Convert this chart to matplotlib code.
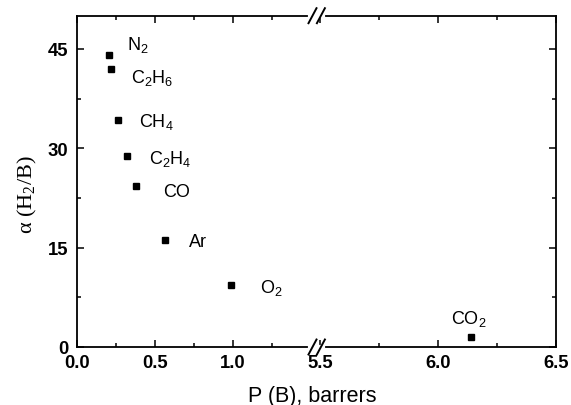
import matplotlib
matplotlib.use('Agg')
import matplotlib.pyplot as plt
from matplotlib.lines import Line2D
from matplotlib.ticker import MultipleLocator

plt.rcParams['font.family'] = 'Liberation Sans'
plt.rcParams['mathtext.default'] = 'regular'

# data
gases = ['N$_2$', 'C$_2$H$_6$', 'CH$_4$', 'C$_2$H$_4$', 'CO', 'Ar', 'O$_2$', 'CO$_2$']
perm = [0.205, 0.216, 0.265, 0.318, 0.378, 0.566, 0.989, 6.139]
alpha = [44.0, 41.9, 34.3, 28.9, 24.3, 16.2, 9.3, 1.5]

# label offsets (points) and alignment
offsets = [(12.7, 4.4), (14.4, -9.0), (14.9, -4.6), (16.3, -5.2),
           (19.2, -7.4), (17.0, -4.6), (20.7, -4.6), (-1.4, 9.8)]
aligns = ['left'] * 7 + ['center']

W, H = 571, 406
x0, xb, x1 = 77, 316.7, 556     # frame left, break, frame right (px)
yb, yt = 348, 16.7              # frame bottom, top (px)
pxL = 156.0                     # px per unit, left part
pxR = 236.0                     # px per unit, right part

fig = plt.figure(figsize=(W / 100, H / 100), dpi=100)
axL = fig.add_axes([x0 / W, (H - yb) / H, (xb - x0) / W, (yb - yt) / H])
axR = fig.add_axes([xb / W, (H - yb) / H, (x1 - xb) / W, (yb - yt) / H])

axL.set_xlim(0, (xb - x0) / pxL)
axR.set_xlim(6.5 - (x1 - xb) / pxR, 6.5)
for ax in (axL, axR):
    ax.set_ylim(0, 50)
    ax.set_yticks([0, 15, 30, 45])
    ax.yaxis.set_minor_locator(MultipleLocator(7.5))
    for s in ax.spines.values():
        s.set_linewidth(1.3)
    ax.tick_params(which='major', direction='in', length=4.8, width=1.1,
                   labelsize=13.3, top=True)
    ax.tick_params(which='minor', direction='in', length=2.6, width=1.1, top=True)

axL.set_xticks([0, 0.5, 1.0])
axL.set_xticks([0.25, 0.75, 1.25], minor=True)
axL.set_xticklabels(['0.0', '0.5', '1.0'])
axL.spines['right'].set_visible(False)
axL.tick_params(which='both', right=False)
axL.tick_params(axis='x', pad=5.3)
axL.tick_params(axis='y', pad=6.3)

axR.set_xticks([5.5, 6.0, 6.5])
axR.set_xticks([5.75, 6.25], minor=True)
axR.set_xticklabels(['5.5', '6.0', '6.5'])
axR.spines['left'].set_visible(False)
axR.tick_params(which='both', left=False, right=True, labelleft=False)
axR.tick_params(axis='x', pad=5.3)

for ax in (axL, axR):
    for lab in ax.get_xticklabels() + ax.get_yticklabels():
        lab.set_fontweight('bold')

for name, x, y, (dx, dy), ha in zip(gases, perm, alpha, offsets, aligns):
    ax = axL if x < 5 else axR
    ax.plot(x, y, 's', color='black', markersize=5)
    ax.annotate(name, (x, y), xytext=(dx, dy), textcoords='offset points',
                ha=ha, va='baseline', fontsize=13)

# axis break marks
def fx(px):
    return px / W

def fy(py):
    return (H - py) / H

for ysp in (yt, yb):
    fig.add_artist(Line2D([fx(xb - 6.5), fx(xb + 6.5)], [fy(ysp), fy(ysp)],
                          color='white', lw=3, transform=fig.transFigure))
    for c in (xb - 4.2, xb + 4.2):
        fig.add_artist(Line2D([fx(c - 4), fx(c + 4)], [fy(ysp + 7.5), fy(ysp - 7.5)],
                              color='black', lw=1.4, transform=fig.transFigure))

fig.text(312 / W, (H - 401.7) / H, 'P (B), barrers', ha='center', va='baseline',
         fontsize=15.5)
fig.text(27.5 / W, (H - 195) / H, 'α (H$_2$/B)', rotation=90, ha='center',
         va='center', fontsize=16, family='Liberation Serif')

fig.savefig('out.png', dpi=100)
